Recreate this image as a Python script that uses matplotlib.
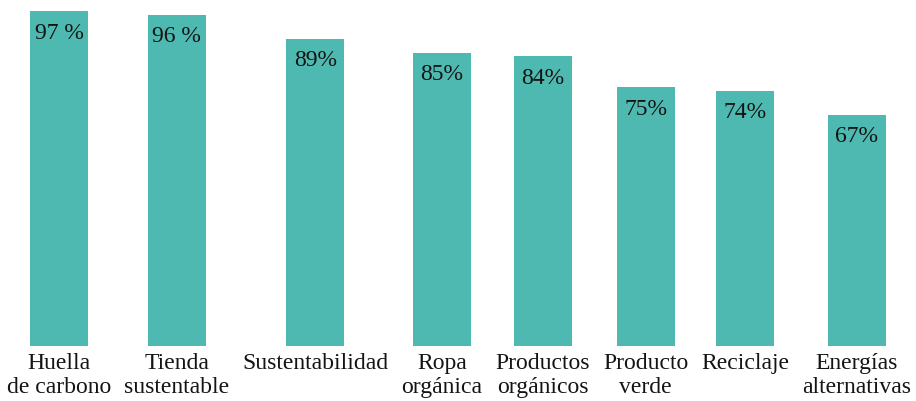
import matplotlib
matplotlib.use("Agg")
import matplotlib.pyplot as plt

categories = [
    "Huella\nde carbono",
    "Tienda\nsustentable",
    "Sustentabilidad",
    "Ropa\norgánica",
    "Productos\norgánicos",
    "Producto\nverde",
    "Reciclaje",
    "Energías\nalternativas",
]
values = [97, 96, 89, 85, 84, 75, 74, 67]
value_labels = ["97 %", "96 %", "89%", "85%", "84%", "75%", "74%", "67%"]

BAR_COLOR = "#4db9b1"
TEXT_COLOR = "#141414"
FONT = "Liberation Serif"
FONT_SIZE = 17
W, H, DPI = 916, 402, 100
BAR_W = 58          # bar width in px
COL_GAP = 13        # extra room between neighbouring label columns
LEFT = 7            # left edge of the first label

plt.rcParams["font.family"] = FONT

fig = plt.figure(figsize=(W / DPI, H / DPI), dpi=DPI)
ax = fig.add_axes([0, 55 / H, 1, 345 / H])

# column widths follow the widest line of each category label
renderer = fig.canvas.get_renderer()
widths = []
for cat in categories:
    w = 0
    for line in cat.split("\n"):
        t = fig.text(0, 0, line, fontsize=FONT_SIZE)
        w = max(w, t.get_window_extent(renderer).width)
        t.remove()
    widths.append(w)

centers = []
x = LEFT
for i, w in enumerate(widths):
    if i:
        x += COL_GAP
    centers.append(x + w / 2)
    x += w

ax.bar(centers, values, width=BAR_W, color=BAR_COLOR)
for cx, v, lab in zip(centers, values, value_labels):
    ax.annotate(lab, (cx, v), xytext=(0, -7.5), textcoords="offset points",
                ha="center", va="top", fontsize=FONT_SIZE, color=TEXT_COLOR)

ax.set_xlim(0, W)
ax.set_ylim(0, 100)
ax.set_xticks(centers)
ax.set_xticklabels(categories, fontsize=FONT_SIZE, color=TEXT_COLOR,
                   linespacing=1.15)
ax.tick_params(axis="x", length=0, pad=4.5)
ax.set_yticks([])
for s in ax.spines.values():
    s.set_visible(False)

fig.savefig("out.png", dpi=DPI)
